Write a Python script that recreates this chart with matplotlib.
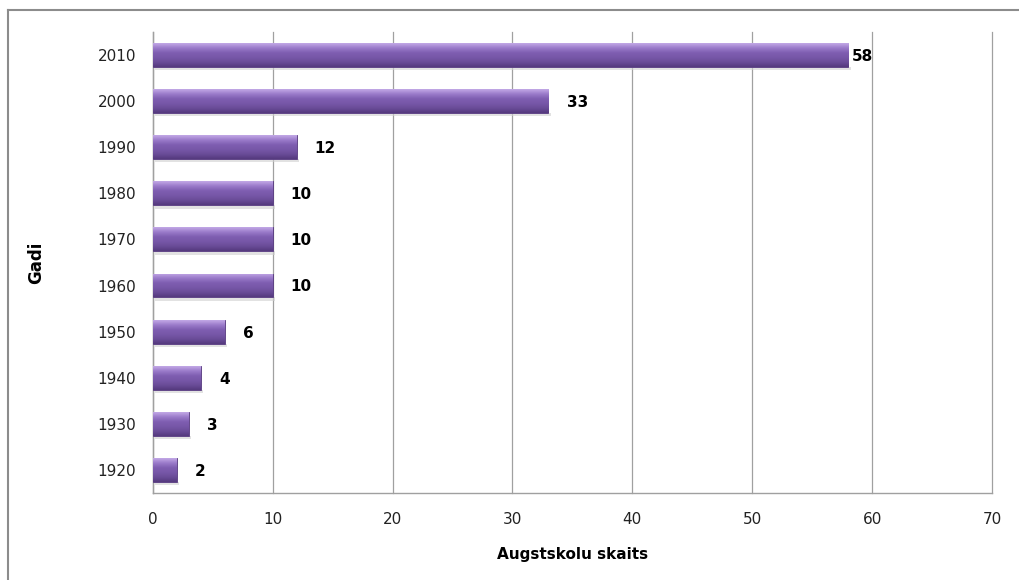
"""Augstskolu skaits pa gadiem -- horizontal bar chart with bevelled bars."""

import numpy as np
import matplotlib
matplotlib.use("Agg")
import matplotlib.pyplot as plt
from matplotlib.colors import LinearSegmentedColormap
from matplotlib.lines import Line2D

years = ["1920", "1930", "1940", "1950", "1960", "1970", "1980", "1990", "2000", "2010"]
counts = [2, 3, 4, 6, 10, 10, 10, 12, 33, 58]

x_ticks = [0, 10, 20, 30, 40, 50, 60, 70]

BAR_CMAP = LinearSegmentedColormap.from_list(
    "bevel", ["#c2a8e6", "#9b7bca", "#7f5eb1", "#7757a8", "#6a4c98", "#553a7e"])


def _bevel_bars(ax, bars):
    """Paint a vertical gradient inside each bar to fake the 3D bevel."""
    grad = np.linspace(0, 1, 64).reshape(-1, 1)
    for b in bars:
        x0, y0 = b.get_x(), b.get_y()
        x1, y1 = x0 + b.get_width(), y0 + b.get_height()
        im = ax.imshow(grad, extent=[x0, x1, y0, y1], aspect="auto",
                       cmap=BAR_CMAP, zorder=3, interpolation="bilinear")
        im.set_clip_path(b)
        # soft shadow under the bar
        ax.fill_between([x0 + 0.15, x1 + 0.2], y0 - 0.07, y0,
                        color="#cfcfcf", alpha=0.6, zorder=2, lw=0)


fig = plt.figure(figsize=(10.19, 5.8), dpi=100)
ax = fig.add_axes([0.150, 0.150, 0.8235, 0.795])

y = np.arange(len(years))
bars = ax.barh(y, counts, height=0.52, color="#7a5aaa",
               edgecolor="#56397f", linewidth=0.6, zorder=3)
_bevel_bars(ax, bars)

for yi, v in zip(y, counts):
    off = 3 if v > 50 else 13
    ax.annotate(str(v), (v, yi), xytext=(off, -1), textcoords="offset points",
                va="center", ha="left", fontsize=11, fontweight="bold",
                color="black", zorder=5)

ax.set_xlim(0, 70)
ax.set_ylim(-0.5, len(years) - 0.5)
ax.set_xticks(x_ticks)
ax.set_yticks(y)
ax.set_yticklabels(years)
ax.tick_params(axis="both", length=0, labelsize=11, colors="#222222")
ax.tick_params(axis="x", pad=14)
ax.tick_params(axis="y", pad=12)

ax.grid(axis="x", color="#a0a0a0", linewidth=0.9, zorder=0)
for gl in ax.get_xgridlines():
    gl.set_clip_on(False)
ax.set_axisbelow(True)
for side in ("top", "right"):
    ax.spines[side].set_visible(False)
for side in ("left", "bottom"):
    ax.spines[side].set_color("#a0a0a0")
    ax.spines[side].set_linewidth(1.0)

ax.set_xlabel("Augstskolu skaits", fontsize=11, fontweight="bold", labelpad=14)
ax.set_ylabel("Gadi", fontsize=12, fontweight="bold", labelpad=38)

# outer chart-area frame (only top and left visible in the crop)
fig.add_artist(Line2D([8 / 1019, 1.0], [1 - 10 / 580, 1 - 10 / 580],
                      transform=fig.transFigure, color="#8c8c8c", lw=1.5))
fig.add_artist(Line2D([8 / 1019, 8 / 1019], [0.0, 1 - 10 / 580],
                      transform=fig.transFigure, color="#8c8c8c", lw=1.5))

fig.savefig("out.png", dpi=100)
